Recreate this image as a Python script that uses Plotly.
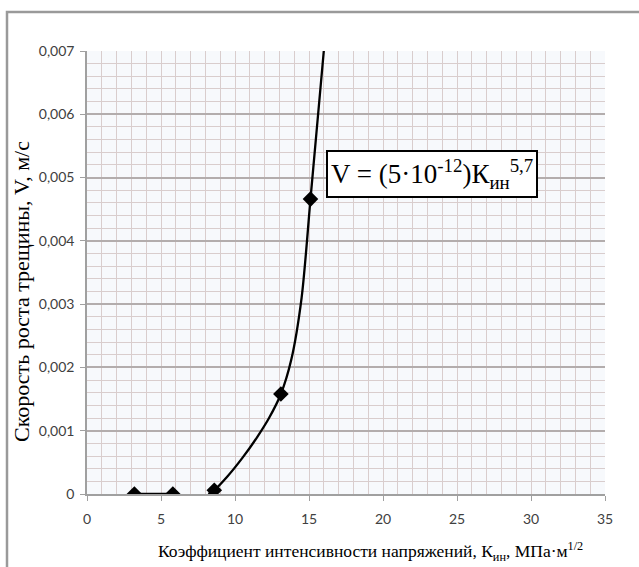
import plotly.graph_objects as go

# Measured points: stress intensity factor K (MPa*m^1/2) vs crack growth rate V (m/s)
k_values = [3.2, 5.8, 8.6, 13.1, 15.1]
v_values = [0.0, 0.0, 0.00006, 0.00158, 0.00466]

# Trend curve
trend_k = [8.2, 8.6, 9.5, 10.5, 11.5, 12.3, 13.1, 13.8, 14.5, 15.1, 15.5, 16.0]
trend_v = [0.0, 0.00006, 0.00028, 0.00057, 0.00090, 0.00120, 0.00158, 0.00212,
           0.00310, 0.00466, 0.00570, 0.00700]

x_tick_vals = [0, 5, 10, 15, 20, 25, 30, 35]
x_tick_text = ["0", "5", "10", "15", "20", "25", "30", "35"]
y_tick_vals = [0, 0.001, 0.002, 0.003, 0.004, 0.005, 0.006, 0.007]
y_tick_text = ["0", "0,001", "0,002", "0,003", "0,004", "0,005", "0,006", "0,007"]

x_title = "Коэффициент интенсивности напряжений, К<sub>ин</sub>, МПа·м<sup>1/2</sup>"
y_title = "Скорость роста трещины, V, м/с"
formula = "V = (5·10<sup>-12</sup>)К<sub>ин</sub><sup>5,7</sup>"

fig = go.Figure()

fig.add_trace(go.Scatter(
    x=trend_k, y=trend_v, mode="lines",
    line=dict(color="#000000", width=2.3, shape="spline", smoothing=0.8),
    hoverinfo="skip", showlegend=False))

fig.add_trace(go.Scatter(
    x=k_values[:2], y=v_values[:2], mode="lines",
    line=dict(color="#000000", width=2.3),
    showlegend=False))

fig.add_trace(go.Scatter(
    x=k_values, y=v_values, mode="markers",
    marker=dict(symbol="diamond", size=12, color="#000000"),
    showlegend=False))

grid_minor = "#d9cdcd"
grid_major = "#b3adad"

def py(p):
    return (494 - p) / 443

def px(p):
    return (p - 87) / 518

fig.update_layout(
    width=639, height=567,
    margin=dict(l=87, r=34, t=51, b=73),
    paper_bgcolor="#ffffff",
    plot_bgcolor="#f7f9fc",
    showlegend=False,
    xaxis=dict(
        range=[0, 35], tickmode="array", tickvals=x_tick_vals, ticktext=x_tick_text,
        showgrid=True, gridcolor=grid_minor, gridwidth=1.3,
        showline=True, linecolor="#a0a0a0", linewidth=1.5,
        ticks="outside", ticklen=5, tickcolor="#a0a0a0", ticklabelstandoff=6,
        tickfont=dict(family="Lato", size=14, color="#404040"),
        minor=dict(dtick=1, showgrid=True, gridcolor=grid_minor, gridwidth=1.3),
        zeroline=False, fixedrange=True,
    ),
    yaxis=dict(
        range=[0, 0.007], tickmode="array", tickvals=y_tick_vals, ticktext=y_tick_text,
        showgrid=True, gridcolor=grid_major, gridwidth=1.5,
        showline=True, linecolor="#a0a0a0", linewidth=1.5,
        ticks="outside", ticklen=5, tickcolor="#a0a0a0", ticklabelstandoff=3,
        tickfont=dict(family="Lato", size=14, color="#404040"),
        minor=dict(dtick=0.0002, showgrid=True, gridcolor=grid_minor, gridwidth=1.3),
        zeroline=False, fixedrange=True,
    ),
    shapes=[dict(
        type="rect", xref="paper", yref="paper",
        x0=px(7), x1=px(660),
        y0=py(600), y1=py(12),
        line=dict(color="#9a9a9a", width=2.5), fillcolor="rgba(0,0,0,0)",
        layer="below",
    )],
    annotations=[
        dict(text=formula, xref="x", yref="y", x=23.3, y=0.00506,
             showarrow=False, font=dict(family="Liberation Serif", size=27, color="#000000"),
             bgcolor="#ffffff", bordercolor="#000000", borderwidth=2, borderpad=3),
        dict(text=x_title, xref="paper", yref="paper",
             x=px(370), y=py(551), xanchor="center", yanchor="middle", showarrow=False,
             font=dict(family="Liberation Serif", size=17.5, color="#000000")),
        dict(text=y_title, xref="paper", yref="paper", textangle=-90,
             x=px(21), y=py(292), xanchor="center", yanchor="middle", showarrow=False,
             font=dict(family="Liberation Serif", size=22, color="#000000")),
    ],
)

fig.write_html("out.html")
